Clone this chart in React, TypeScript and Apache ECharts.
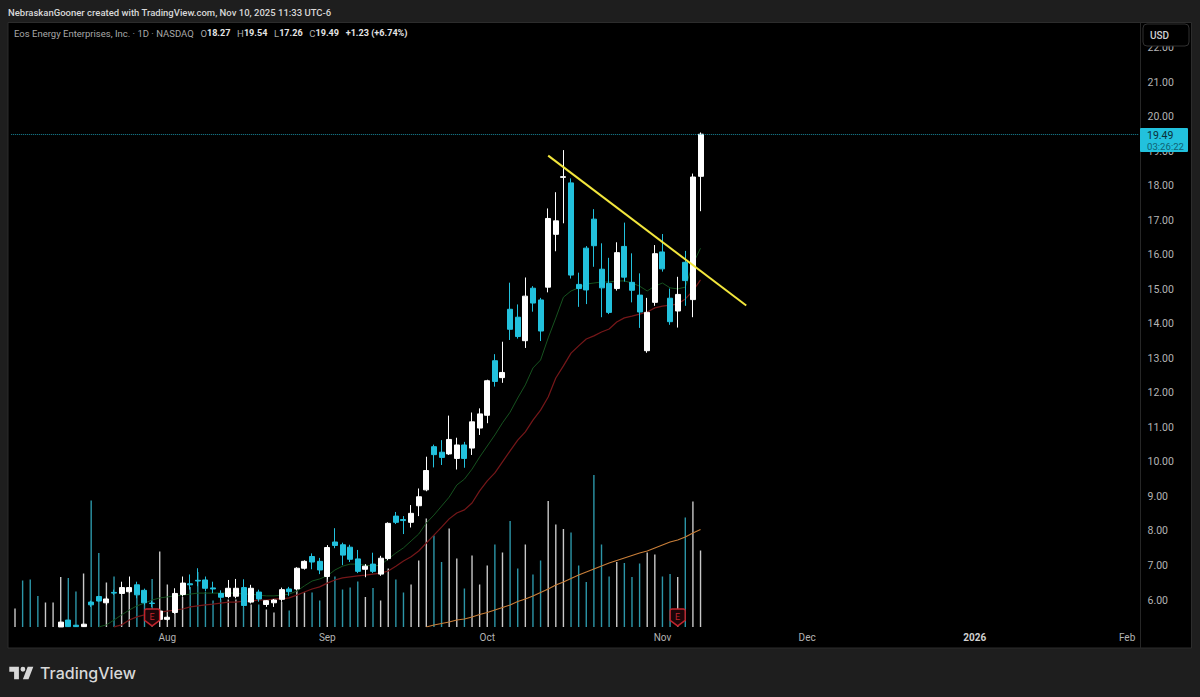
import { useEffect, useRef } from 'react';
import * as echarts from 'echarts';

const UP = '#ffffff';
const DOWN = '#22c1dd';
const VOL_UP = '#c8c8c8';
const VOL_DOWN = '#2c96a8';
const FONT = "Roboto, 'Open Sans', sans-serif";

// trading days, the part after Nov 10 is empty room on the right of the chart
const tradingDays = [
  ...[3, 7, 8, 9, 10, 11, 14, 15, 16, 17, 18, 21, 22, 23, 24, 25, 28, 29, 30, 31].map((d) => `Jul ${d}`),
  ...[1, 4, 5, 6, 7, 8, 11, 12, 13, 14, 15, 18, 19, 20, 21, 22, 25, 26, 27, 28, 29].map((d) => `Aug ${d}`),
  ...[2, 3, 4, 5, 8, 9, 10, 11, 12, 15, 16, 17, 18, 19, 22, 23, 24, 25, 26, 29, 30].map((d) => `Sep ${d}`),
  ...[1, 2, 3, 6, 7, 8, 9, 10, 13, 14, 15, 16, 17, 20, 21, 22, 23, 24, 27, 28, 29, 30, 31].map((d) => `Oct ${d}`),
  ...[3, 4, 5, 6, 7, 10, 11, 12, 13, 14, 17, 18, 19, 20, 21, 24, 25, 26, 28].map((d) => `Nov ${d}`),
  ...[1, 2, 3, 4, 5, 8, 9, 10, 11, 12, 15, 16, 17, 18, 19, 22, 23, 24, 26, 29, 30, 31].map((d) => `Dec ${d}`),
  ...[2, 5, 6, 7, 8, 9, 12, 13, 14, 15, 16, 20, 21, 22, 23, 26, 27, 28, 29, 30].map((d) => `Jan ${d}`),
  ...[2, 3].map((d) => `Feb ${d}`),
];

const monthTicks: Record<string, string> = {
  'Aug 1': 'Aug',
  'Sep 2': 'Sep',
  'Oct 1': 'Oct',
  'Nov 3': 'Nov',
  'Dec 1': 'Dec',
  'Jan 2': '{year|2026}',
  'Feb 2': 'Feb',
};

// the first six candles sit under the visible price range, only their volume shows
const hiddenCandlesUp = [true, false, false, false, true, true];

// open, close, low, high
const candles = [
  [5.22, 5.36, 5.22, 5.36], [5.42, 5.23, 5.22, 5.42], [5.27, 5.23, 5.22, 5.27], [5.23, 5.3, 5.22, 5.3],
  [5.94, 5.86, 5.8, 5.98], [6.1, 5.97, 5.95, 6.12], [5.92, 6.03, 5.85, 6.1], [6.22, 6.2, 6.15, 6.3],
  [6.19, 6.36, 6.15, 6.53], [6.24, 6.36, 6.2, 6.68], [6.44, 6.15, 6.05, 6.53], [6.28, 5.92, 5.85, 6.33],
  [5.91, 5.9, 5.8, 5.98], [5.44, 5.68, 5.4, 5.72], [5.44, 5.5, 5.4, 5.55], [5.64, 6.19, 5.6, 6.34],
  [6.16, 6.49, 6.1, 6.68], [6.47, 6.44, 6.3, 6.74], [6.57, 6.55, 6.4, 6.92], [6.58, 6.34, 6.25, 6.68],
  [6.35, 6.32, 6.2, 6.53], [6.19, 6.08, 6.0, 6.28], [6.1, 6.34, 6.05, 6.58], [6.11, 6.34, 6.05, 6.61],
  [6.36, 5.84, 5.8, 6.6], [5.94, 6.34, 5.9, 6.44], [6.23, 6.03, 5.95, 6.3], [5.87, 5.98, 5.8, 6.0],
  [5.92, 6.0, 5.8, 6.03], [6.02, 6.3, 5.95, 6.36], [6.32, 6.24, 6.12, 6.38], [6.32, 6.92, 6.28, 6.95],
  [6.92, 7.12, 6.88, 7.15], [7.26, 7.1, 6.89, 7.35], [7.12, 6.87, 6.75, 7.22], [6.68, 7.52, 6.6, 7.59],
  [7.68, 7.58, 7.5, 8.08], [7.6, 7.3, 7.01, 7.66], [7.53, 7.18, 7.1, 7.6], [7.19, 6.83, 6.78, 7.45],
  [6.89, 6.98, 6.66, 7.04], [7.04, 6.83, 6.78, 7.37], [6.75, 7.21, 6.7, 7.28], [7.2, 8.22, 7.15, 8.25],
  [8.43, 8.25, 8.2, 8.55], [8.33, 8.3, 7.91, 8.43], [8.25, 8.51, 8.1, 8.75], [8.73, 8.99, 8.43, 9.23],
  [9.19, 9.75, 9.15, 10.15], [10.44, 10.21, 9.84, 10.5], [10.28, 10.13, 9.91, 10.63], [10.23, 10.65, 10.2, 11.34],
  [10.1, 10.49, 9.78, 10.7], [10.49, 10.1, 9.83, 10.58], [10.4, 11.16, 10.2, 11.43], [10.98, 11.39, 10.78, 11.55],
  [11.35, 12.35, 11.12, 12.38], [12.93, 12.33, 12.18, 13.12], [12.44, 12.59, 12.29, 13.48], [14.42, 13.84, 13.53, 15.19],
  [14.19, 13.63, 13.57, 14.56], [13.51, 14.8, 13.3, 15.34], [15.03, 14.6, 14.35, 15.09], [14.69, 13.79, 13.5, 14.75],
  [15.06, 17.05, 14.91, 17.34], [16.59, 16.98, 16.1, 17.81], [18.24, 18.26, 16.91, 19.03], [18.08, 15.41, 15.31, 18.21],
  [15.14, 15.02, 14.49, 15.48], [16.19, 14.98, 14.57, 16.25], [17.03, 16.26, 15.65, 17.32], [15.58, 15.04, 14.19, 16.33],
  [15.17, 14.33, 14.28, 15.91], [15.02, 16.06, 14.96, 16.36], [16.24, 15.35, 15.22, 16.93], [15.2, 14.97, 14.62, 16.04],
  [14.83, 14.34, 13.88, 15.46], [13.22, 14.33, 13.16, 14.75], [14.62, 16.03, 14.52, 16.28], [16.08, 15.59, 15.51, 16.6],
  [14.74, 14.06, 13.97, 15.02], [14.37, 14.85, 13.89, 15.36], [15.78, 15.25, 14.52, 16.11], [14.7, 18.25, 14.19, 18.35],
  [18.27, 19.49, 17.26, 19.54],
];

// millions of shares, one value per bar from Jul 3
const volumes = [
  3.7, 9.3, 9.5, 6.2, 4.9, 4.9, 10, 9.8, 7.1, 10.7,
  25.3, 14.8, 8.9, 10.1, 6.5, 7, 6.5, 4.7, 9.6, 15.1,
  8.5, 5, 6, 8, 11, 7, 5.3, 5.5, 5.5, 5.5,
  4, 4.5, 4.5, 3.5, 2.9, 5, 3.3, 7.3, 6.9, 6.9,
  5.3, 10, 10.1, 7.5, 7.9, 9.1, 6, 7.8, 5.3, 11.7,
  9.5, 6.9, 8.5, 13.3, 21.7, 18.3, 13, 19.7, 13.7, 7.7,
  14.3, 8.5, 12.3, 16.5, 14.9, 21.2, 11.7, 16.5, 10.5, 13.3,
  25.2, 20.5, 19.6, 18.9, 12.3, 9, 30.4, 16.5, 10.1, 13,
  12.8, 10, 12.7, 14.9, 14.5, 10.1, 10.6, 10, 21.9, 25.1,
  15.3,
];

// starts at bar 54, before that it is under the bottom of the pane
const VOLUME_MA_START = 54;
const volumeMa = [
  0, 0.4, 0.7, 1, 1.4, 1.6, 2, 2.5, 2.9, 3.4,
  3.9, 4.4, 5.1, 5.6, 6.2, 6.9, 7.6, 8.4, 9, 9.7,
  10.4, 11, 11.6, 12.2, 12.8, 13.3, 13.8, 14.3, 14.8, 15.2,
  15.8, 16.4, 17, 17.4, 18, 18.8, 19.5,
];

const FAST_MA_START = 11;
const fastMa = [
  5.22, 5.28, 5.42, 5.57, 5.71, 5.83, 5.91, 6, 6.06, 6.09,
  6.12, 6.14, 6.17, 6.2, 6.2, 6.2, 6.2, 6.2, 6.2, 6.17,
  6.17, 6.14, 6.12, 6.12, 6.14, 6.17, 6.26, 6.41, 6.55, 6.61,
  6.7, 6.87, 6.98, 7.04, 7.04, 7.01, 6.98, 7.01, 7.19, 7.36,
  7.51, 7.71, 7.91, 8.23, 8.46, 8.72, 8.98, 9.33, 9.5, 9.79,
  10.14, 10.46, 10.78, 11.13, 11.44, 11.85, 12.23, 12.72, 12.95, 13.59,
  14.17, 14.77, 14.95, 15.04, 15.15, 15.18, 15.21, 15.21, 15.24, 15.24,
  15.18, 15.09, 14.95, 15.09, 15.18, 15.04, 15.01, 15.06, 15.73, 16.19,
];

const SLOW_MA_START = 13;
const slowMa = [
  5.22, 5.28, 5.42, 5.51, 5.57, 5.62, 5.65, 5.68, 5.71, 5.74,
  5.8, 5.83, 5.86, 5.88, 5.91, 5.94, 5.94, 5.97, 5.97, 6,
  6, 6.03, 6.03, 6.06, 6.14, 6.23, 6.32, 6.38, 6.49, 6.58,
  6.64, 6.67, 6.7, 6.72, 6.75, 6.78, 6.84, 6.98, 7.13, 7.25,
  7.42, 7.65, 7.88, 8.11, 8.35, 8.52, 8.61, 8.81, 9.16, 9.45,
  9.68, 10, 10.32, 10.63, 10.87, 11.21, 11.5, 11.88, 12.43, 12.78,
  13.15, 13.36, 13.56, 13.65, 13.76, 13.85, 14.05, 14.17, 14.22, 14.28,
  14.34, 14.46, 14.51, 14.54, 14.57, 14.72, 14.95, 15.27,
];

const trendLine = [
  [70, 18.87],
  [96, 14.53],
];

const earningsBars = [18, 87];
const LAST_CLOSE = 19.49;

const SHIELD = 'path://M2 0H14Q16 0 16 2V12L8 18L0 12V2Q0 0 2 0Z';
const TV_LOGO = 'M14 6H2V12H8V21H14V6Z M26 21H19L25 6H32L26 21Z M19 12A3 3 0 1 0 19 6A3 3 0 0 0 19 12Z';

const pad = (start: number, values: number[]) => [...Array(start).fill('-'), ...values];

export default function App() {
  const chartRef = useRef<HTMLDivElement>(null);

  useEffect(() => {
    if (!chartRef.current) return;
    document.body.style.margin = '0';
    echarts.graphic.registerShape('tvlogo', echarts.graphic.extendPath(TV_LOGO, {}));
    const chart = echarts.init(chartRef.current, null, { renderer: 'svg' });

    const isUp = (i: number) =>
      i < hiddenCandlesUp.length
        ? hiddenCandlesUp[i]
        : candles[i - hiddenCandlesUp.length][1] >= candles[i - hiddenCandlesUp.length][0];

    const option = {
      animation: false,
      backgroundColor: '#1e1e1e',
      grid: [
        { left: 11.2, width: 1127.3, top: 13, height: 621.54 },
        { left: 11.2, width: 1127.3, top: 427, height: 200 },
      ],
      xAxis: [
        { type: 'category', gridIndex: 0, data: tradingDays, show: false },
        {
          type: 'category',
          gridIndex: 1,
          data: tradingDays,
          axisLine: { show: false },
          axisTick: { show: false },
          axisLabel: {
            color: '#b4b4b4',
            fontFamily: FONT,
            fontSize: 10,
            margin: 5,
            interval: (_: number, value: string) => value in monthTicks,
            formatter: (value: string) => monthTicks[value] || '',
            rich: { year: { color: '#d0d0d0', fontFamily: FONT, fontSize: 10, fontWeight: 'bold' } },
          },
        },
      ],
      yAxis: [
        {
          type: 'value',
          gridIndex: 0,
          position: 'right',
          min: 5,
          max: 23,
          interval: 1,
          splitLine: { show: false },
          axisLine: { show: false },
          axisTick: { show: false },
          axisLabel: {
            color: '#b4b4b4',
            fontFamily: FONT,
            fontSize: 10.5,
            margin: 9,
            formatter: (v: number) => (v >= 6 && v <= 22 ? v.toFixed(2) : ''),
          },
        },
        { type: 'value', gridIndex: 1, min: 0, max: 40, show: false, splitLine: { show: false } },
      ],
      series: [
        {
          name: 'Volume',
          type: 'bar',
          xAxisIndex: 1,
          yAxisIndex: 1,
          barWidth: 1.4,
          z: 1,
          data: volumes.map((v, i) => ({
            value: v,
            itemStyle: { color: isUp(i) ? VOL_UP : VOL_DOWN },
          })),
        },
        {
          name: 'Volume MA',
          type: 'line',
          xAxisIndex: 1,
          yAxisIndex: 1,
          showSymbol: false,
          z: 2,
          lineStyle: { color: '#c97f39', width: 1.1 },
          data: pad(VOLUME_MA_START, volumeMa),
          markPoint: {
            z: 10,
            symbol: SHIELD,
            symbolSize: [15, 17],
            itemStyle: { color: '#1c0508', borderColor: '#c2242c', borderWidth: 1.5 },
            label: { show: true, formatter: 'E', color: '#c2242c', fontSize: 9, fontFamily: FONT, offset: [0, -1] },
            data: earningsBars.map((bar) => ({ coord: [bar, 1.9] })),
          },
        },
        {
          name: 'MA fast',
          type: 'line',
          showSymbol: false,
          z: 2,
          lineStyle: { color: '#16521f', width: 1 },
          data: pad(FAST_MA_START, fastMa),
        },
        {
          name: 'MA slow',
          type: 'line',
          showSymbol: false,
          z: 2,
          lineStyle: { color: '#761719', width: 1.2 },
          data: pad(SLOW_MA_START, slowMa),
        },
        {
          name: 'EOSE',
          type: 'candlestick',
          barWidth: 5.5,
          z: 3,
          itemStyle: {
            color: UP,
            color0: DOWN,
            borderColor: UP,
            borderColor0: DOWN,
            borderWidth: 1,
          },
          data: [...hiddenCandlesUp.map(() => ['-', '-', '-', '-']), ...candles],
          markLine: {
            silent: true,
            symbol: 'none',
            label: { show: false },
            lineStyle: { color: DOWN, type: 'dotted', width: 1, opacity: 0.7 },
            data: [{ yAxis: LAST_CLOSE }],
          },
        },
        {
          name: 'Trend line',
          type: 'line',
          showSymbol: false,
          z: 5,
          lineStyle: { color: '#f2e63c', width: 2 },
          data: trendLine,
        },
      ],
      graphic: [
        {
          type: 'rect',
          silent: true,
          z: -10,
          shape: { x: 8, y: 22.5, width: 1183.5, height: 625.5 },
          style: { fill: '#000000', stroke: '#2c2c2c', lineWidth: 1 },
        },
        {
          type: 'line',
          silent: true,
          z: -9,
          shape: { x1: 1140.5, y1: 22.5, x2: 1140.5, y2: 648 },
          style: { stroke: '#262626', lineWidth: 1 },
        },
        {
          type: 'text',
          z: 100,
          x: 8,
          y: 12,
          style: {
            text: 'NebraskanGooner created with TradingView.com, Nov 10, 2025 11:33 UTC-6',
            fill: '#d8d8d8',
            fontFamily: FONT,
            fontSize: 9.5,
            fontWeight: 500,
            verticalAlign: 'middle',
          },
        },
        {
          type: 'text',
          z: 100,
          x: 14,
          y: 33,
          style: {
            text: '{name|Eos Energy Enterprises, Inc. · 1D · NASDAQ}  {name|O}{val|18.27}  {name|H}{val|19.54}  {name|L}{val|17.26}  {name|C}{val|19.49}  {val|+1.23 (+6.74%)}',
            verticalAlign: 'middle',
            rich: {
              name: { fill: '#a8a8a8', fontFamily: FONT, fontSize: 9.5 },
              val: { fill: '#e4e4e4', fontFamily: FONT, fontSize: 9.1, fontWeight: 'bold' },
            },
          },
        },
        {
          type: 'rect',
          z: 100,
          shape: { x: 1143, y: 24, width: 46, height: 22, r: 4 },
          style: { fill: '#000000', stroke: '#303030', lineWidth: 1 },
        },
        {
          type: 'text',
          z: 101,
          x: 1150,
          y: 35,
          style: { text: 'USD', fill: '#d0d0d0', fontFamily: FONT, fontSize: 10, fontWeight: 500, verticalAlign: 'middle' },
        },
        {
          type: 'rect',
          z: 100,
          shape: { x: 1140, y: 128, width: 48, height: 24, r: 1 },
          style: { fill: DOWN },
        },
        {
          type: 'text',
          z: 101,
          x: 1147,
          y: 135,
          style: { text: '19.49', fill: '#0a2f38', fontFamily: FONT, fontSize: 10.5, verticalAlign: 'middle' },
        },
        {
          type: 'text',
          z: 101,
          x: 1147,
          y: 146,
          style: { text: '03:26:22', fill: '#0f6273', fontFamily: FONT, fontSize: 9.6, verticalAlign: 'middle' },
        },
        {
          type: 'tvlogo',
          z: 100,
          x: 7.7,
          y: 661.8,
          scaleX: 0.8,
          scaleY: 0.83,
          style: { fill: '#d8d8d8' },
        },
        {
          type: 'text',
          z: 100,
          x: 40,
          y: 673,
          style: {
            text: 'TradingView',
            fill: '#d8d8d8',
            fontFamily: 'Inter, sans-serif',
            fontSize: 16,
            fontWeight: 500,
            verticalAlign: 'middle',
          },
        },
      ],
    };

    chart.setOption(option as echarts.EChartsOption);

    return () => {
      chart.dispose();
    };
  }, []);

  return <div ref={chartRef} style={{ position: 'fixed', left: 0, top: 0, width: '1200px', height: '697px' }} />;
}
